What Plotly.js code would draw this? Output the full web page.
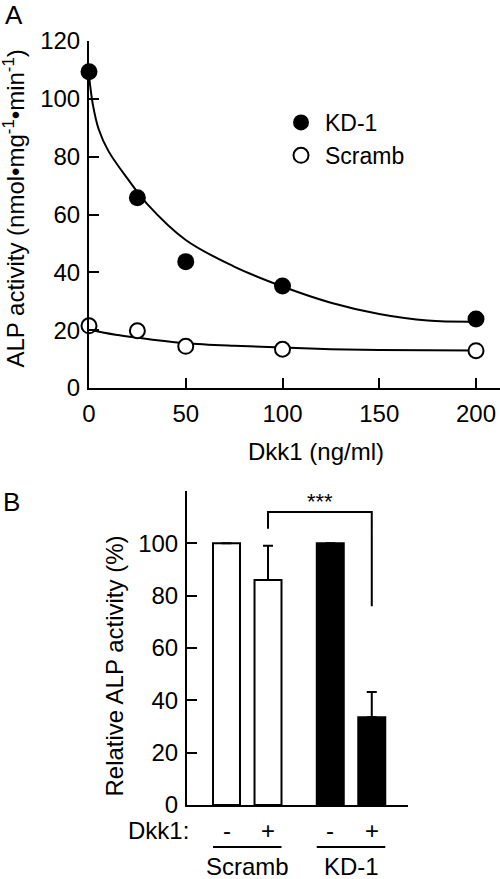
<!DOCTYPE html>
<html><head><meta charset="utf-8">
<script src="https://cdn.plot.ly/plotly-3.0.1.min.js"></script>
<style>html,body{margin:0;padding:0;background:#fff}#chart{width:500px;height:879px}</style>
</head><body><div id="chart"></div>
<script>
// ---- Panel A data ----
const doses = [0, 25, 50, 100, 200];
const kdActivity = [109.4, 65.8, 43.7, 35.3, 23.9];
const scrambActivity = [21.5, 19.8, 14.4, 13.4, 12.9];
const kdFitDose = [0, 2, 5, 10, 20, 30, 50, 75, 100, 125, 150, 175, 200];
const kdFitActivity = [108, 98, 89.5, 82, 72.3, 63.7, 51.2, 42, 35.1, 29.5, 25.6, 23.3, 22.9];
const scrambFitDose = [0, 3, 15, 32, 50, 75, 100, 125, 150, 200];
const scrambFitActivity = [20.6, 19.8, 18.3, 16.8, 15.5, 14.6, 14.0, 13.4, 13.1, 13.0];
const doseTicks = [0, 50, 100, 150, 200];
const activityTicks = [0, 20, 40, 60, 80, 100, 120];

// ---- Panel B data ----
const groups = ['Scramb', 'KD-1'];
const dkkStates = ['-', '+'];
const relActivity = [100, 86, 100, 33.5];
const relError = [null, 13.1, null, 9.7];
const relTicks = [0, 20, 40, 60, 80, 100];
const sigLabel = '***';
const sigBracketY = [105.6, 112, 76];   // left leg end, bracket top, right leg end

// ---- layout helpers (pixel -> paper) ----
const W = 500, H = 879;
const px = v => v / W;
const py = v => (H - v) / H;
const FONT = 'Liberation Sans, Arial, Helvetica, sans-serif';

// bar positions built from group/condition indices
const barPos = [], barColor = [], barLabel = [];
groups.forEach((g, gi) => dkkStates.forEach((d, ci) => {
  barPos.push(1 + gi * 2.5 + ci);
  barColor.push(gi === 0 ? '#ffffff' : '#000000');
  barLabel.push(g + ' ' + d);
}));
const BW = 0.65;

const traces = [
  {x: kdFitDose, y: kdFitActivity, mode: 'lines', line: {color: '#000', width: 2, shape: 'spline'},
   showlegend: false, hoverinfo: 'skip', xaxis: 'x', yaxis: 'y', cliponaxis: false},
  {x: scrambFitDose, y: scrambFitActivity, mode: 'lines', line: {color: '#000', width: 2, shape: 'spline'},
   showlegend: false, hoverinfo: 'skip', xaxis: 'x', yaxis: 'y', cliponaxis: false},
  {x: doses, y: kdActivity, mode: 'markers', name: 'KD-1', legendgroup: 'a',
   marker: {symbol: 'circle', size: 17, color: '#000', line: {width: 0}},
   xaxis: 'x', yaxis: 'y', cliponaxis: false},
  {x: doses, y: scrambActivity, mode: 'markers', name: 'Scramb', legendgroup: 'b',
   marker: {symbol: 'circle', size: 15, color: '#fff', line: {width: 2, color: '#000'}},
   xaxis: 'x', yaxis: 'y', cliponaxis: false},
  {type: 'bar', x: barPos, y: relActivity, width: BW, text: barLabel, textposition: 'none',
   marker: {color: barColor, line: {color: '#000', width: 2}},
   error_y: {type: 'data', symmetric: false, array: relError, arrayminus: relError.map(() => 0),
             color: '#000', thickness: 2, width: 5},
   showlegend: false, xaxis: 'x2', yaxis: 'y2'}
];

const ann = (o) => Object.assign({xref: 'paper', yref: 'paper', showarrow: false,
  xanchor: 'center', yanchor: 'middle', font: {size: 24}}, o);

const annotations = [
  ann({text: 'A', x: px(14), y: py(15), font: {size: 26}}),
  ann({text: 'B', x: px(11), y: py(502), font: {size: 26}}),
  ann({text: 'ALP activity (nmol•mg<sup>-1</sup>•min<sup>-1</sup>)', textangle: -90, x: px(14), y: py(208.5)}),
  ann({text: 'Dkk1 (ng/ml)', x: px(316), y: py(452)}),
  ann({text: 'Relative ALP activity (%)', textangle: -90, x: px(114), y: py(666.5)}),
  ann({text: sigLabel, x: (barPos[1] + barPos[3]) / 2, y: 116, xref: 'x2', yref: 'y2', font: {size: 22}}),
  ann({text: 'Dkk1:', x: px(191), y: py(830), xanchor: 'right'})
];
barPos.forEach((p, i) => annotations.push(ann({text: dkkStates[i % 2], x: p, y: py(830), xref: 'x2'})));
groups.forEach((g, gi) => annotations.push(ann({
  text: g, x: (barPos[gi * 2] + barPos[gi * 2 + 1]) / 2, y: py(866), xref: 'x2'})));

const shapes = [
  {type: 'path', xref: 'x2', yref: 'y2',
   path: `M ${barPos[1]},${sigBracketY[0]} L ${barPos[1]},${sigBracketY[1]} L ${barPos[3]},${sigBracketY[1]} L ${barPos[3]},${sigBracketY[2]}`,
   line: {color: '#000', width: 2}}
];
groups.forEach((g, gi) => shapes.push({
  type: 'line', xref: 'x2', yref: 'paper',
  x0: barPos[gi * 2] - BW / 2, x1: barPos[gi * 2 + 1] + BW / 2, y0: py(847), y1: py(847),
  line: {color: '#000', width: 2}}));

const axisCommon = {showline: true, linecolor: '#000', linewidth: 2, ticks: 'inside', ticklen: 10,
  tickwidth: 2, tickcolor: '#000', showgrid: false, zeroline: false, tickfont: {size: 24, color: '#000'},
  fixedrange: true};

const layout = {
  width: W, height: H, margin: {l: 0, r: 0, t: 0, b: 0},
  paper_bgcolor: '#fff', plot_bgcolor: 'rgba(0,0,0,0)',
  font: {family: FONT, color: '#000', size: 23},
  showlegend: true,
  legend: {x: px(277), y: py(101), xanchor: 'left', yanchor: 'top', itemwidth: 38,
           font: {size: 23}, tracegroupgap: 0, traceorder: 'grouped', bgcolor: 'rgba(0,0,0,0)'},
  xaxis: Object.assign({}, axisCommon, {domain: [px(89), 1], range: [0, 212.4], tickvals: doseTicks,
           anchor: 'y', ticklabelstandoff: 3}),
  yaxis: Object.assign({}, axisCommon, {domain: [py(388), py(41)], range: [0, 120], tickvals: activityTicks,
           anchor: 'x', ticklabelstandoff: 2}),
  xaxis2: Object.assign({}, axisCommon, {domain: [px(187), px(408)], range: [0.048, 5.373], ticks: '',
           showticklabels: false, anchor: 'y2'}),
  yaxis2: Object.assign({}, axisCommon, {domain: [py(805), py(491)], range: [0, 120], tickvals: relTicks,
           anchor: 'x2', ticklabelstandoff: 2}),
  annotations: annotations,
  shapes: shapes,
  bargap: 0
};

Plotly.newPlot('chart', traces, layout, {staticPlot: true, displayModeBar: false});
</script>
</body></html>
